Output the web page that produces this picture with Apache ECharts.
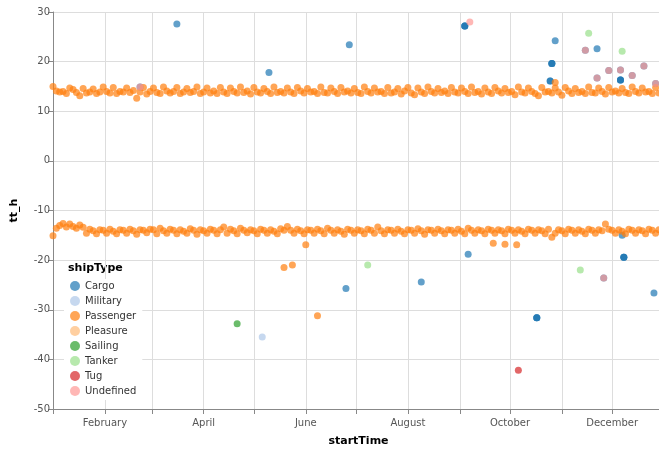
<!DOCTYPE html>
<html>
<head>
<meta charset="utf-8">
<script src="https://cdn.jsdelivr.net/npm/echarts@6/dist/echarts.min.js"></script>
<style>
html,body{margin:0;padding:0;background:#fff;}
#chart{width:659px;height:449px;}
</style>
</head>
<body>
<div id="chart"></div>
<script>
// ---- data ----
const YEAR = 2017;
const shipTypes = ['Cargo','Military','Passenger','Pleasure','Sailing','Tanker','Tug','Undefined'];
const colors = ['#1f77b4','#aec7e8','#ff7f0e','#ffbb78','#2ca02c','#98df8a','#d62728','#ff9896'];
const monthNames = ['January','February','March','April','May','June','July','August','September','October','November','December'];

// Passenger "band" trips, one value every 2 days starting Jan 1
const bandStepDays = 2;
const upperBand = [
15.0,14.1,13.9,14.0,13.6,14.7,14.4,13.8,13.1,14.6,
13.7,13.9,14.5,13.6,13.9,14.9,14.0,13.7,14.8,13.6,
14.0,13.9,14.7,13.8,14.2,12.6,13.9,14.8,13.5,14.0,
14.7,13.8,13.6,14.9,14.1,13.7,14.0,14.8,13.6,13.9,
14.6,13.8,14.0,14.9,13.6,13.9,14.7,13.7,14.1,13.6,
14.8,13.9,13.6,14.7,14.0,13.7,14.9,13.8,14.1,13.5,
14.8,13.9,13.7,14.6,14.0,13.6,14.9,13.8,14.0,13.7,
14.7,13.9,13.6,14.8,14.1,13.7,14.6,13.9,14.0,13.6,
14.9,13.8,13.7,14.7,14.0,13.6,14.8,13.9,14.1,13.7,
14.6,13.8,13.6,14.9,14.0,13.7,14.7,13.9,14.0,13.6,
14.8,13.7,13.9,14.6,13.5,14.1,14.8,13.7,13.3,14.7,
13.9,13.6,14.9,14.0,13.7,14.6,13.8,14.1,13.6,14.8,
13.9,13.7,14.7,14.0,13.6,14.9,13.8,14.0,13.5,14.7,
13.9,13.6,14.8,14.1,13.7,14.6,13.8,14.0,13.3,14.9,
13.9,13.7,14.7,14.0,13.6,13.1,14.8,13.9,14.0,13.7,
14.7,13.9,13.2,14.8,14.1,13.6,14.6,13.8,14.0,13.6,
14.9,13.8,13.7,14.7,14.0,13.5,14.8,13.9,14.1,13.7,
14.6,13.8,13.6,14.9,14.0,13.7,14.7,13.9,14.0,13.6,
14.8,13.7,13.9
];
const lowerBand = [
-15.1,-13.6,-13.0,-12.6,-13.3,-12.7,-13.2,-13.6,-12.9,-13.4,
-14.6,-13.8,-14.1,-14.7,-13.9,-14.0,-14.6,-13.8,-14.2,-14.7,
-13.9,-14.0,-14.6,-13.8,-14.1,-14.8,-13.9,-14.0,-14.5,-13.8,
-13.9,-14.7,-13.6,-14.1,-14.6,-13.8,-14.0,-14.7,-13.9,-14.2,
-14.6,-13.7,-14.0,-14.8,-13.9,-14.1,-14.6,-13.8,-14.0,-14.7,
-13.9,-13.3,-14.6,-13.8,-14.1,-14.7,-13.6,-14.0,-14.5,-13.9,
-14.1,-14.7,-13.8,-14.0,-14.6,-13.9,-14.2,-14.7,-13.7,-14.0,
-13.2,-14.0,-14.6,-13.8,-14.1,-14.7,-13.9,-14.0,-14.6,-13.8,
-14.1,-14.7,-13.6,-14.0,-14.6,-13.9,-14.2,-14.8,-13.8,-14.0,
-14.6,-13.9,-14.1,-14.7,-13.8,-14.0,-14.6,-13.3,-14.1,-14.7,
-13.9,-14.0,-14.6,-13.8,-14.2,-14.7,-13.9,-14.0,-14.6,-13.7,
-14.1,-14.8,-13.9,-14.0,-14.6,-13.8,-14.1,-14.7,-13.9,-14.0,
-14.6,-13.8,-14.2,-14.7,-13.6,-14.0,-14.6,-13.9,-14.1,-14.7,
-13.8,-14.0,-14.6,-13.9,-14.1,-14.7,-13.8,-14.0,-14.6,-13.9,
-14.2,-14.7,-13.8,-14.0,-14.6,-13.9,-14.1,-14.7,-13.8,-15.4,
-14.6,-13.9,-14.1,-14.7,-13.8,-14.0,-14.6,-13.9,-14.2,-14.7,
-13.8,-14.0,-14.6,-13.9,-14.1,-12.7,-13.8,-14.0,-14.6,-13.9,
-14.2,-14.7,-13.8,-14.0,-14.6,-13.9,-14.1,-14.7,-13.8,-14.0,
-14.6,-13.9,-14.1
];

// other trips: [date, tt_h]
const cargoTrips = [
['2017-02-22',14.9],['2017-03-16',27.6],['2017-05-10',17.8],['2017-06-25',-25.7],['2017-06-27',23.4],
['2017-08-09',-24.4],['2017-09-04',27.2],['2017-09-04',27.2],['2017-09-04',27.2],['2017-09-06',-18.8],
['2017-10-17',-31.6],['2017-10-17',-31.6],['2017-10-17',-31.6],
['2017-10-25',16.1],['2017-10-25',16.1],['2017-10-26',19.6],['2017-10-26',19.6],['2017-10-26',19.6],
['2017-10-28',24.2],['2017-11-15',22.3],['2017-11-22',22.6],['2017-11-22',16.7],['2017-11-26',-23.6],
['2017-11-29',18.2],['2017-12-06',18.3],['2017-12-06',16.3],['2017-12-06',16.3],['2017-12-06',16.3],
['2017-12-07',-15.0],['2017-12-08',-19.4],['2017-12-08',-19.4],['2017-12-08',-19.4],
['2017-12-13',17.2],['2017-12-20',19.1],['2017-12-26',-26.6],['2017-12-27',15.6]
];
const militaryTrips = [['2017-05-06',-35.5]];
const passengerTrips = [
['2017-05-19',-21.5],['2017-05-24',-21.0],['2017-06-01',-16.9],['2017-06-08',-31.2],
['2017-09-21',-16.6],['2017-09-28',-16.8],['2017-10-05',-16.9],['2017-10-28',15.8]
];
const pleasureTrips = [];
const sailingTrips = [['2017-04-21',-32.8]];
const tankerTrips = [['2017-07-08',-21.0],['2017-11-12',-22.0],['2017-11-17',25.7],['2017-12-07',22.1]];
const tugTrips = [['2017-10-06',-42.2]];
const undefinedTrips = [
['2017-02-22',14.9],['2017-09-07',28.0],['2017-11-15',22.3],['2017-11-22',16.7],['2017-11-26',-23.6],
['2017-11-29',18.2],['2017-12-06',18.3],['2017-12-13',17.2],['2017-12-20',19.1],['2017-12-27',15.6]
];

const yTicks = {min:-50, max:30, interval:10};

// ---- build ----
function toTime(s){ const p = s.split('-').map(Number); return new Date(p[0], p[1]-1, p[2]).getTime(); }
function bandPoints(arr){ return arr.map((v,i)=>[new Date(YEAR,0,1+i*bandStepDays).getTime(), v]); }
function pts(arr){ return arr.map(d=>[toTime(d[0]), d[1]]); }

const seriesData = {
  Cargo: pts(cargoTrips),
  Military: pts(militaryTrips),
  Passenger: bandPoints(upperBand).concat(bandPoints(lowerBand)).concat(pts(passengerTrips)),
  Pleasure: pts(pleasureTrips),
  Sailing: pts(sailingTrips),
  Tanker: pts(tankerTrips),
  Tug: pts(tugTrips),
  Undefined: pts(undefinedTrips)
};

const FONT = 'DejaVu Sans';
const chart = echarts.init(document.getElementById('chart'), null, {renderer:'canvas'});
chart.setOption({
  animation:false,
  backgroundColor:'#fff',
  textStyle:{fontFamily:FONT},
  grid:{left:53, top:12, width:611, bottom:40, containLabel:false, outerBoundsMode:'none'},
  xAxis:{
    type:'time',
    min:new Date(YEAR,0,1).getTime(),
    max:new Date(YEAR+1,0,1).getTime(),
    minInterval:28*86400000,
    maxInterval:31*86400000,
    name:'startTime', nameLocation:'middle', nameGap:27,
    nameTextStyle:{fontFamily:FONT, fontSize:11, fontWeight:'bold', color:'#000'},
    axisLine:{show:true, onZero:false, lineStyle:{color:'#888', width:1}},
    axisTick:{show:true, length:5, lineStyle:{color:'#888'}},
    splitLine:{show:true, lineStyle:{color:'#ddd', width:1}},
    axisLabel:{
      fontFamily:FONT, fontSize:10, color:'#555', margin:9, hideOverlap:false,
      formatter:function(v){ const d=new Date(v); const m=d.getMonth(); return (m%2===1 && d.getDate()===1) ? monthNames[m] : ''; }
    }
  },
  yAxis:{
    type:'value', min:yTicks.min, max:yTicks.max, interval:yTicks.interval,
    name:'tt_h', nameLocation:'middle', nameGap:33, nameRotate:90,
    nameTextStyle:{fontFamily:FONT, fontSize:11, fontWeight:'bold', color:'#000'},
    axisLine:{show:true, lineStyle:{color:'#888', width:1}},
    axisTick:{show:true, length:5, lineStyle:{color:'#888'}},
    splitLine:{show:true, lineStyle:{color:'#ddd', width:1}},
    axisLabel:{fontFamily:FONT, fontSize:10, color:'#555', margin:3}
  },
  legend:{
    data:shipTypes, orient:'vertical', left:64, top:279,
    icon:'circle', itemWidth:10, itemHeight:10, itemGap:5,
    backgroundColor:'#fff', padding:[2,6,4,6],
    textStyle:{fontFamily:FONT, fontSize:10, color:'#333'},
    selectedMode:false
  },
  graphic:[{type:'text', left:68, top:263, style:{text:'shipType', fontFamily:FONT, fontSize:11, fontWeight:'bold', fill:'#000'}}],
  series: shipTypes.map((t,i)=>({
    name:t, type:'scatter', symbol:'circle', symbolSize:7,
    itemStyle:{color:colors[i], opacity:0.7},
    emphasis:{disabled:true},
    data:seriesData[t]
  }))
});
</script>
</body>
</html>
